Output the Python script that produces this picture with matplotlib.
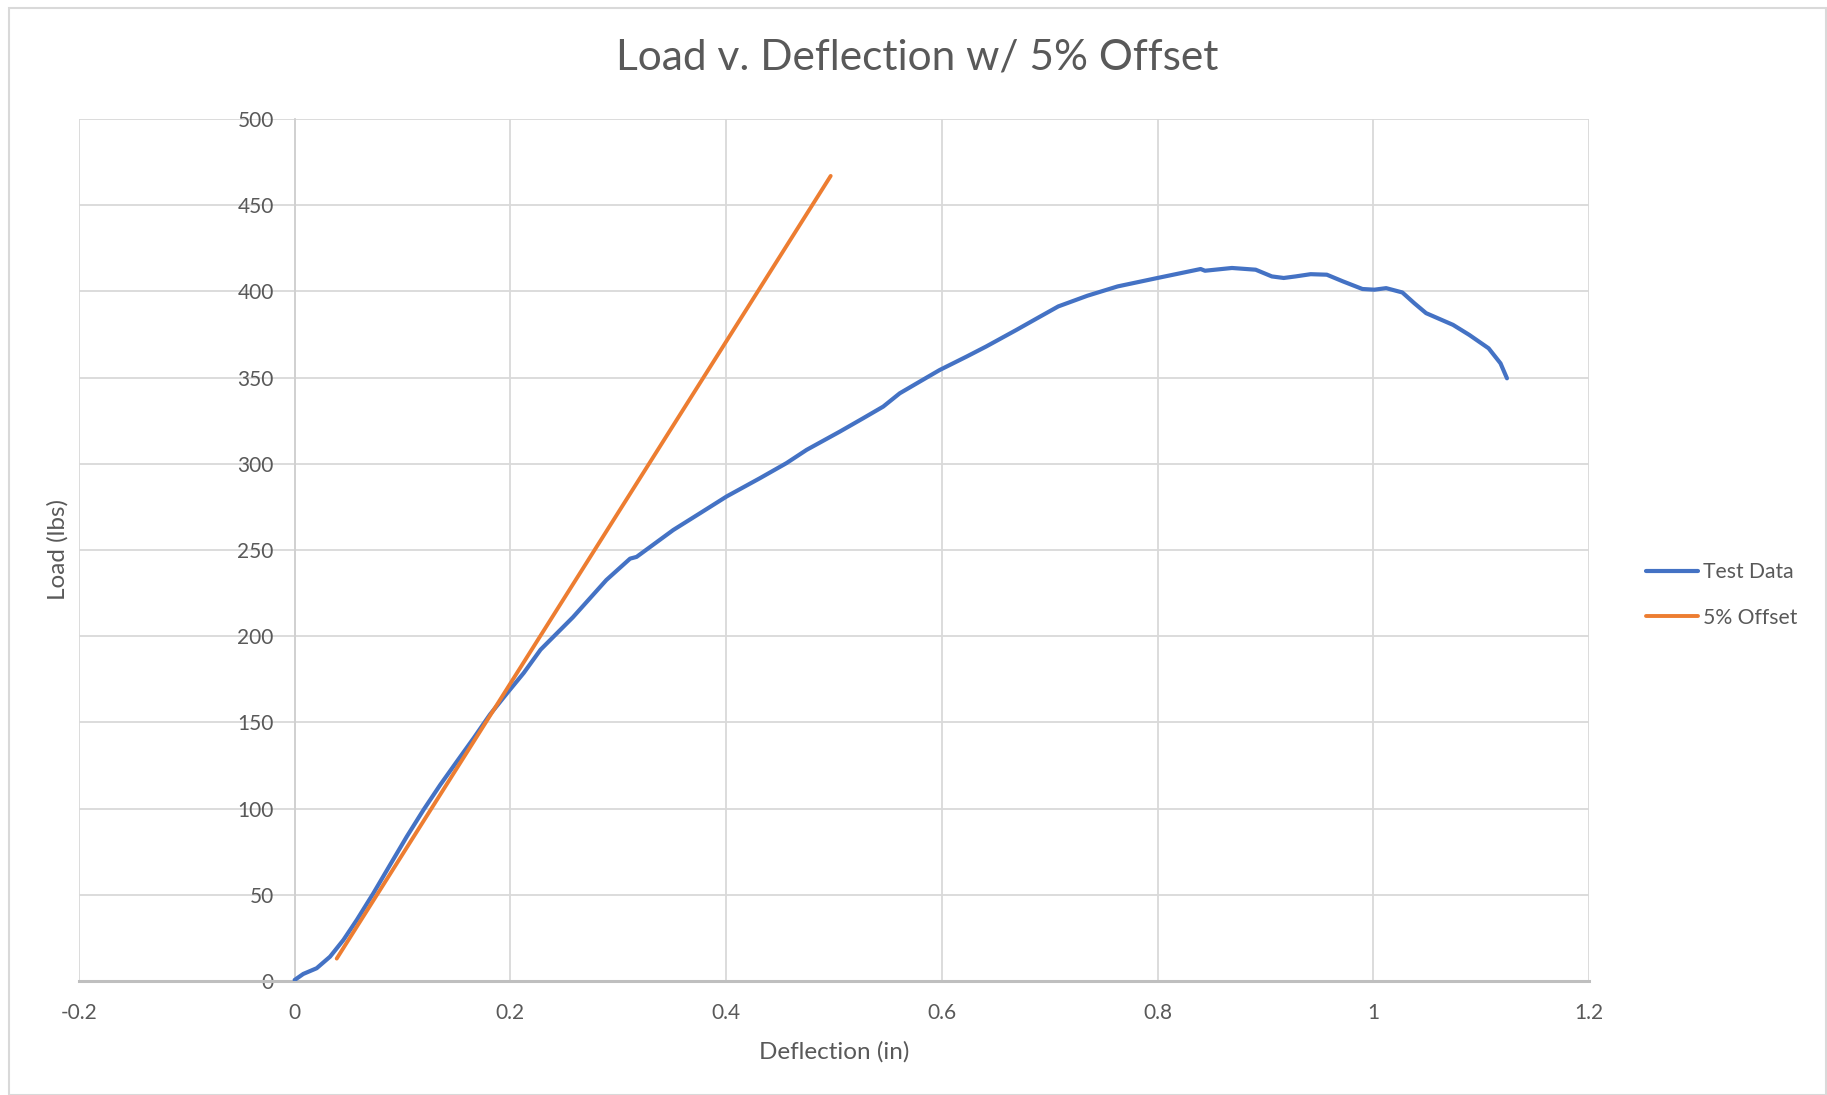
import matplotlib
matplotlib.use('Agg')
import matplotlib.pyplot as plt
from matplotlib.patches import Rectangle

# 载荷-挠度试验数据 (in, lbs)
defl = [0.0, 0.008, 0.0204, 0.0328, 0.0452, 0.0576, 0.073, 0.0885, 0.104,
        0.1195, 0.135, 0.1505, 0.166, 0.181, 0.197, 0.2124, 0.228, 0.258,
        0.289, 0.311, 0.317, 0.351, 0.376, 0.4006, 0.4315, 0.456, 0.4747,
        0.5055, 0.527, 0.5457, 0.561, 0.5796, 0.598, 0.623, 0.641, 0.669,
        0.690, 0.708, 0.735, 0.763, 0.800, 0.840, 0.844, 0.869, 0.891,
        0.906, 0.917, 0.928, 0.942, 0.957, 0.972, 0.990, 1.001, 1.012,
        1.027, 1.038, 1.049, 1.074, 1.089, 1.107, 1.118, 1.124]
load = [0.6, 4.1, 7.4, 14.1, 23.8, 35.4, 50.9, 67.4, 83.8,
        99.3, 113.8, 127.4, 140.9, 154.5, 167.0, 178.7, 192.2, 211.0,
        232.6, 245.0, 246.0, 261.6, 271.4, 281.1, 291.7, 300.4, 308.1,
        318.7, 326.4, 333.2, 340.9, 347.7, 354.4, 362.2, 368.0, 377.6,
        385.0, 391.3, 397.5, 402.9, 407.8, 413.0, 412.0, 413.6, 412.6,
        408.7, 407.8, 408.7, 410.0, 409.7, 405.8, 401.4, 401.0, 401.9,
        399.4, 393.2, 387.4, 380.6, 374.8, 367.0, 358.3, 349.6]

# 5% 偏移直线的两个端点
offset_x = [0.039, 0.497]
offset_y = [13, 467]

x_ticks = [-0.2, 0, 0.2, 0.4, 0.6, 0.8, 1, 1.2]
x_labels = ['-0.2', '0', '0.2', '0.4', '0.6', '0.8', '1', '1.2']
y_ticks = [0, 50, 100, 150, 200, 250, 300, 350, 400, 450, 500]

plt.rcParams['font.family'] = ['Lato', 'DejaVu Sans']
txt = '#595959'
grid = '#d9d9d9'

fig = plt.figure(figsize=(18.27, 10.95), dpi=100)
ax = fig.add_axes([0.0432, 0.1041, 0.8265, 0.7872])

ax.plot(defl, load, color='#4472C4', lw=3.0, solid_capstyle='round',
        solid_joinstyle='round', label='Test Data', zorder=3)
ax.plot(offset_x, offset_y, color='#ED7D31', lw=2.8, solid_capstyle='round',
        label='5% Offset', zorder=3)

ax.set_xlim(-0.2, 1.2)
ax.set_ylim(0, 500)
ax.set_xticks(x_ticks)
ax.set_xticklabels(x_labels)
ax.set_yticks(y_ticks)
ax.grid(True, color=grid, lw=1.3)
ax.set_axisbelow(True)

for s in ['top', 'right']:
    ax.spines[s].set_visible(False)
ax.spines['left'].set_position(('data', 0))
ax.spines['left'].set_color('#d0d0d0')
ax.spines['left'].set_linewidth(1.3)
ax.spines['bottom'].set_color('#bfbfbf')
ax.spines['bottom'].set_linewidth(2.2)

ax.tick_params(axis='both', length=0, labelsize=15, labelcolor=txt)
ax.tick_params(axis='y', pad=15)
ax.tick_params(axis='x', pad=16)

fig.text(0.502, 1 - 58 / 1095, 'Load v. Deflection w/ 5% Offset', ha='center',
         va='center', fontsize=30.5, color=txt)
fig.text(834 / 1827, 1 - 1052 / 1095, 'Deflection (in)', ha='center',
         va='center', fontsize=17.5, color=txt)
fig.text(58 / 1827, 1 - 550 / 1095, 'Load (lbs)', ha='center', va='center',
         rotation=90, fontsize=17.5, color=txt)

leg = ax.legend(loc='center left', bbox_to_anchor=(1635 / 1827, 1 - 595 / 1095),
                bbox_transform=fig.transFigure, frameon=False, fontsize=15.2,
                handlelength=2.5, handletextpad=0.2, labelspacing=1.2,
                borderpad=0)
for t in leg.get_texts():
    t.set_color(txt)

# 图表外框
fig.patches.append(Rectangle((9 / 1827, 0), 1 - 10 / 1827, 1 - 8 / 1095,
                             transform=fig.transFigure, fill=False,
                             edgecolor='#d9d9d9', lw=1.5))

fig.savefig('out.png', dpi=100)
